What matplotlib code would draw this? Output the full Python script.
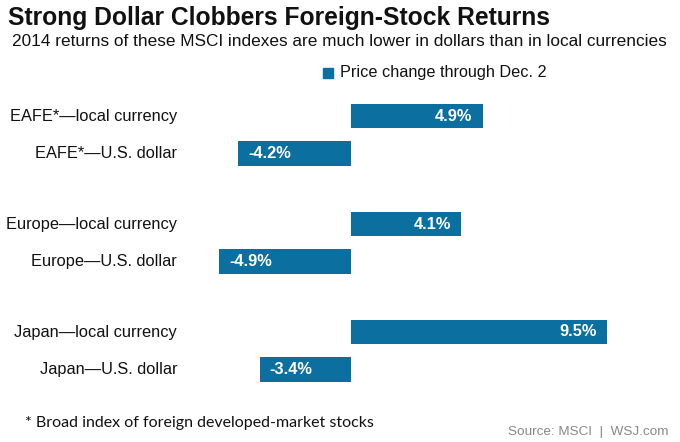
#!/usr/bin/env python3

import matplotlib
matplotlib.use("Agg")
import matplotlib.pyplot as plt
import matplotlib.transforms as mtransforms

plt.rcParams["font.family"] = ["Liberation Sans", "DejaVu Sans"]

LABELS = [
    "EAFE*\u2014local currency",
    "EAFE*\u2014U.S. dollar",
    "Europe\u2014local currency",
    "Europe\u2014U.S. dollar",
    "Japan\u2014local currency",
    "Japan\u2014U.S. dollar",
]
VALUES = [4.9, -4.2, 4.1, -4.9, 9.5, -3.4]
GROUP = [0, 0, 1, 1, 2, 2]
SLOT = [0, 1, 0, 1, 0, 1]

BAR_COLOR = "#0b6fa0"

W, H = 680, 442
fig = plt.figure(figsize=(W / 100, H / 100), dpi=100)
ax = fig.add_axes([0, 0, 1, 1])

# data scale: x=0 at 351px, ~26.9 px per point; y slot 0 at 116px, 36 px per slot
px_x = 26.9
px_y = 36.0
ax.set_xlim(-351 / px_x, (W - 351) / px_x)
ax.set_ylim((H - 116) / px_y, -116 / px_y)
ax.axis("off")

ypos = [g * 3 + s for g, s in zip(GROUP, SLOT)]
ypos = [y + (0.03 if s == 1 else 0) for y, s in zip(ypos, SLOT)]
ax.barh(ypos, VALUES, height=0.69, color=BAR_COLOR)

lab_tr = mtransforms.blended_transform_factory(ax.transAxes, ax.transData)
for y, lab, v in zip(ypos, LABELS, VALUES):
    ax.text(177 / W, y, lab, transform=lab_tr, ha="right", va="center",
            fontsize=11.8, color="#111111")
    txt = f"{v:.1f}%"
    if v >= 0:
        ax.text(v - 0.38, y, txt, ha="right", va="center", fontsize=11.8,
                fontweight="bold", color="white")
    else:
        ax.text(v + 0.38, y, txt, ha="left", va="center", fontsize=11.8,
                fontweight="bold", color="white")

fig.text(8 / W, 1 - 18 / H, "Strong Dollar Clobbers Foreign-Stock Returns",
         ha="left", va="center", fontsize=17.7, fontweight="bold", color="#111111")
fig.text(12 / W, 1 - 42 / H,
         "2014 returns of these MSCI indexes are much lower in dollars than in local currencies",
         ha="left", va="center", fontsize=12.4, color="#111111")

# legend
fig.patches.append(plt.Rectangle((323 / W, 1 - 78 / H), 10 / W, 10 / H,
                                 transform=fig.transFigure, color=BAR_COLOR))
fig.text(340 / W, 1 - 73 / H, "Price change through Dec. 2", ha="left",
         va="center", fontsize=11.7, color="#111111")

fig.text(25 / W, 1 - 423 / H, "* Broad index of foreign developed-market stocks",
         ha="left", va="center", fontsize=11.5, color="#111111", family="Lato")
fig.text(668 / W, 1 - 432 / H, "Source: MSCI  |  WSJ.com", ha="right",
         va="center", fontsize=9.7, color="#888888")

fig.savefig("out.png", dpi=100)
